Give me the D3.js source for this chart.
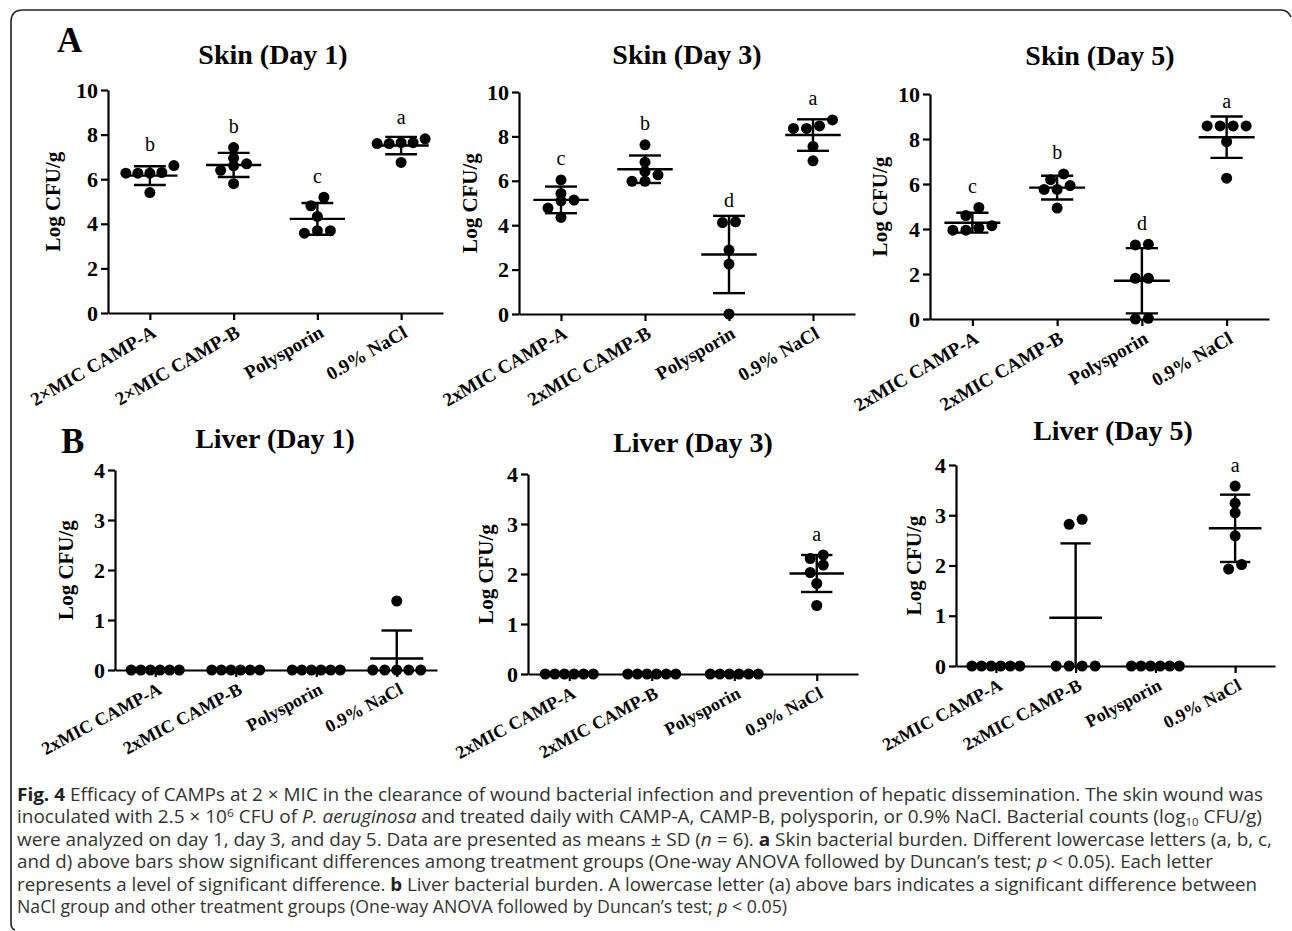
<!DOCTYPE html>
<meta charset="utf-8">
<script src="https://d3js.org/d3.v7.min.js"></script>
<style>
  body { margin: 0; background: #fff; }
  .serif { font-family: "Liberation Serif", "Times New Roman", serif; }
  .cap { font-family: "Open Sans", "Noto Sans", sans-serif; fill: #333; }
</style>
<body>
<div id="fig"></div>
<script>
// ---- data (Log CFU/g, one value per animal) ----
var catsSkin1 = ["2\u00d7MIC CAMP-A", "2\u00d7MIC CAMP-B", "Polysporin", "0.9% NaCl"];
var cats = ["2xMIC CAMP-A", "2xMIC CAMP-B", "Polysporin", "0.9% NaCl"];
var skinTicks = [0, 2, 4, 6, 8, 10];
var liverTicks = [0, 1, 2, 3, 4];

var skin1 = [[6.30, 6.27, 6.27, 6.27, 6.61, 5.40], [7.42, 6.94, 6.69, 6.60, 6.40, 5.80],
             [5.19, 4.81, 4.33, 3.69, 3.58, 3.69], [7.64, 7.60, 7.64, 7.60, 7.81, 6.75]];
var skin1Mean = [6.16, 6.64, 4.22, 7.51];
var skin1SD = [0.42, 0.54, 0.71, 0.39];
var skin1Letters = ["b", "b", "c", "a"];

var skin3 = [[6.04, 5.43, 5.13, 5.10, 4.77, 4.35], [7.62, 6.84, 6.27, 5.98, 5.98, 6.42],
             [4.12, 4.15, 2.88, 2.25, 0], [8.47, 8.36, 8.36, 8.74, 7.55, 6.90]];
var skin3Mean = [5.14, 6.52, 2.68, 8.06];
var skin3SD = [0.60, 0.62, 1.74, 0.71];
var skin3Letters = ["c", "b", "d", "a"];

var skin5 = [[4.96, 4.60, 4.05, 3.95, 3.95, 4.15], [6.45, 6.19, 5.76, 5.76, 5.93, 4.93],
             [3.29, 3.32, 1.81, 1.81, 0.03, 0], [8.58, 8.58, 8.58, 8.58, 7.88, 6.26]];
var skin5Mean = [4.28, 5.84, 1.70, 8.08];
var skin5SD = [0.44, 0.53, 1.45, 0.92];
var skin5Letters = ["c", "b", "d", "a"];

var liver1 = [[0, 0, 0, 0, 0, 0], [0, 0, 0, 0, 0, 0], [0, 0, 0, 0, 0, 0], [1.38, 0, 0, 0, 0, 0]];
var liver1Mean = [0, 0, 0, 0.23];
var liver1SD = [0, 0, 0, 0.56];
var liver1Letters = ["", "", "", ""];

var liver3 = [[0, 0, 0, 0, 0, 0], [0, 0, 0, 0, 0, 0], [0, 0, 0, 0, 0, 0], [2.38, 2.18, 2.31, 2.03, 1.81, 1.37]];
var liver3Mean = [0, 0, 0, 2.01];
var liver3SD = [0, 0, 0, 0.37];
var liver3Letters = ["", "", "", "a"];

var liver5 = [[0, 0, 0, 0, 0, 0], [0, 0, 0, 0, 2.92, 2.82], [0, 0, 0, 0, 0, 0], [3.58, 3.24, 3.05, 2.59, 1.93, 2.02]];
var liver5Mean = [0, 0.96, 0, 2.74];
var liver5SD = [0, 1.48, 0, 0.67];
var liver5Letters = ["", "", "", "a"];

// ---- panels: data + where they sit on the page ----
var panels = [
  {title: "Skin (Day 1)", cats: catsSkin1, ticks: skinTicks, vals: skin1, mean: skin1Mean, sd: skin1SD, letters: skin1Letters,
   x0: 108, x1: 443, yb: 313, yt: 90, tx: 273, ty: 64, lx: 55, fs: 19, rot: -30},
  {title: "Skin (Day 3)", cats: cats, ticks: skinTicks, vals: skin3, mean: skin3Mean, sd: skin3SD, letters: skin3Letters,
   x0: 519, x1: 855, yb: 314, yt: 92, tx: 687, ty: 64, lx: 472, fs: 19, rot: -30},
  {title: "Skin (Day 5)", cats: cats, ticks: skinTicks, vals: skin5, mean: skin5Mean, sd: skin5SD, letters: skin5Letters,
   x0: 930, x1: 1269, yb: 319, yt: 94, tx: 1100, ty: 65, lx: 882, fs: 19, rot: -30},
  {title: "Liver (Day 1)", cats: cats, ticks: liverTicks, vals: liver1, mean: liver1Mean, sd: liver1SD, letters: liver1Letters,
   x0: 115, x1: 437, yb: 670, yt: 470, tx: 275, ty: 448, lx: 68, fs: 18, rot: -28},
  {title: "Liver (Day 3)", cats: cats, ticks: liverTicks, vals: liver3, mean: liver3Mean, sd: liver3SD, letters: liver3Letters,
   x0: 528, x1: 858, yb: 674, yt: 474, tx: 693, ty: 452, lx: 488, fs: 18, rot: -28},
  {title: "Liver (Day 5)", cats: cats, ticks: liverTicks, vals: liver5, mean: liver5Mean, sd: liver5SD, letters: liver5Letters,
   x0: 956, x1: 1275, yb: 666, yt: 465, tx: 1113, ty: 440, lx: 916, fs: 18, rot: -28}
];

var W = 1292, H = 931, R = 5.5;

var svg = d3.select("#fig").append("svg")
  .attr("width", W).attr("height", H);

// frame
svg.append("path")
  .attr("d", "M15,930 Q11,929 11,923 L11,22 Q11,10 23,10 L1281,10 Q1288,10 1291,17")
  .attr("fill", "none").attr("stroke", "#222").attr("stroke-width", 1.6);

svg.append("text").attr("class", "serif").attr("x", 57).attr("y", 52)
  .attr("font-size", 35).attr("font-weight", "bold").text("A");
svg.append("text").attr("class", "serif").attr("x", 61).attr("y", 453)
  .attr("font-size", 35).attr("font-weight", "bold").text("B");

// spread points that sit at about the same height into a centred row
function spread(values, y) {
  var idx = values.map(function(v, i) { return i; })
    .sort(function(a, b) { return values[a] - values[b]; });
  var off = new Array(values.length), rows = [], cur = null;
  idx.forEach(function(i) {
    if (cur && Math.abs(y(values[i]) - y(values[cur[0]])) < 9) cur.push(i);
    else { cur = [i]; rows.push(cur); }
  });
  rows.forEach(function(r) {
    var gap = r.length > 1 ? Math.min(13, 48 / (r.length - 1)) : 0;
    r.forEach(function(i, k) { off[i] = (k - (r.length - 1) / 2) * gap; });
  });
  return off;
}

panels.forEach(function(p) {
  var g = svg.append("g").attr("class", "serif");
  var x = d3.scalePoint().domain(p.cats).range([p.x0, p.x1]).padding(0.5);
  var y = d3.scaleLinear().domain([0, d3.max(p.ticks)]).range([p.yb, p.yt]);
  var step = x.step();

  g.append("text").attr("x", p.tx).attr("y", p.ty).attr("text-anchor", "middle")
    .attr("font-size", 28).attr("font-weight", "bold").text(p.title);

  var ya = g.append("g").attr("transform", "translate(" + p.x0 + ",0)")
    .call(d3.axisLeft(y).tickValues(p.ticks).tickFormat(d3.format("d"))
      .tickSize(7).tickSizeOuter(0).tickPadding(3));
  ya.attr("font-family", null).attr("font-size", null);
  ya.selectAll(".tick text").attr("font-size", 22).attr("font-weight", "bold").attr("fill", "#000");

  var xa = g.append("g").attr("transform", "translate(0," + p.yb + ")")
    .call(d3.axisBottom(x).tickSize(7).tickSizeOuter(0));
  xa.attr("font-family", null).attr("font-size", null);
  xa.selectAll(".tick text")
    .attr("y", 0).attr("dy", 0)
    .attr("transform", "translate(7,23) rotate(" + p.rot + ")")
    .style("text-anchor", "end")
    .attr("font-size", p.fs).attr("font-weight", "bold").attr("fill", "#000");

  g.selectAll(".domain, .tick line").attr("stroke", "#000").attr("stroke-width", 2.2);

  g.append("text")
    .attr("transform", "translate(" + p.lx + "," + ((p.yb + p.yt) / 2) + ") rotate(-90)")
    .attr("text-anchor", "middle").attr("dominant-baseline", "middle")
    .attr("font-size", 21).attr("font-weight", "bold").text("Log CFU/g");

  p.cats.forEach(function(c, ci) {
    var vals = p.vals[ci], cx = x(c);
    var off = spread(vals, y);
    g.selectAll(null).data(vals).enter().append("circle")
      .attr("cx", function(d, i) { return cx + off[i]; })
      .attr("cy", function(d) { return y(d); })
      .attr("r", R).attr("fill", "#000");

    var m = p.mean[ci], s = p.sd[ci];
    var hw = step * 0.33, cw = step * 0.19;
    g.append("line").attr("x1", cx - hw).attr("x2", cx + hw)
      .attr("y1", y(m)).attr("y2", y(m)).attr("stroke", "#000").attr("stroke-width", 2.4);
    if (s > 0) {
      var hi = m + s, lo = Math.max(0, m - s);
      g.append("line").attr("x1", cx).attr("x2", cx).attr("y1", y(hi)).attr("y2", y(lo))
        .attr("stroke", "#000").attr("stroke-width", 2.4);
      g.append("line").attr("x1", cx - cw).attr("x2", cx + cw).attr("y1", y(hi)).attr("y2", y(hi))
        .attr("stroke", "#000").attr("stroke-width", 2.4);
      if (m - s >= 0) {
        g.append("line").attr("x1", cx - cw).attr("x2", cx + cw).attr("y1", y(lo)).attr("y2", y(lo))
          .attr("stroke", "#000").attr("stroke-width", 2.4);
      }
    }
    if (p.letters[ci]) {
      var top = Math.min(y(d3.max(vals)) - R, s > 0 ? y(m + s) : Infinity);
      g.append("text").attr("x", cx).attr("y", top - 9).attr("text-anchor", "middle")
        .attr("font-size", 20).text(p.letters[ci]);
    }
  });
});

// ---- caption ----
var capLines = [
  {w: 1246, segs: [["Fig. 4", "b"], [" Efficacy of CAMPs at 2 \u00d7 MIC in the clearance of wound bacterial infection and prevention of hepatic dissemination. The skin wound was"]]},
  {w: 1245, segs: [["inoculated with 2.5 \u00d7 10"], ["6", "sup"], [" CFU of ", "down"], ["P. aeruginosa", "i"], [" and treated daily with CAMP-A, CAMP-B, polysporin, or 0.9% NaCl. Bacterial counts (log"], ["10", "sub"], [" CFU/g)", "up"]]},
  {w: 1255, segs: [["were analyzed on day 1, day 3, and day 5. Data are presented as means \u00b1 SD ("], ["n", "i"], [" = 6). "], ["a", "b"], [" Skin bacterial burden. Different lowercase letters (a, b, c,"]]},
  {w: 1196, segs: [["and d) above bars show significant differences among treatment groups (One-way ANOVA followed by Duncan\u2019s test; "], ["p", "i"], [" < 0.05). Each letter"]]},
  {w: 1240, segs: [["represents a level of significant difference. "], ["b", "b"], [" Liver bacterial burden. A lowercase letter (a) above bars indicates a significant difference between"]]},
  {w: 770, segs: [["NaCl group and other treatment groups (One-way ANOVA followed by Duncan\u2019s test; "], ["p", "i"], [" < 0.05)"]]}
];

capLines.forEach(function(ln, li) {
  var t = svg.append("text").attr("class", "cap")
    .attr("x", 17).attr("y", 801 + li * 22.4)
    .attr("font-size", 17.5)
    .attr("textLength", ln.w).attr("lengthAdjust", "spacingAndGlyphs");
  ln.segs.forEach(function(s) {
    var ts = t.append("tspan").text(s[0]);
    if (s[1] === "b") ts.attr("font-weight", "bold").attr("fill", "#222");
    if (s[1] === "i") ts.attr("font-style", "italic");
    if (s[1] === "sup") ts.attr("dy", -6).attr("font-size", 11);
    if (s[1] === "sub") ts.attr("dy", 2.5).attr("font-size", 10.5);
    if (s[1] === "down") ts.attr("dy", 6);
    if (s[1] === "up") ts.attr("dy", -2.5);
  });
});
</script>
</body>
